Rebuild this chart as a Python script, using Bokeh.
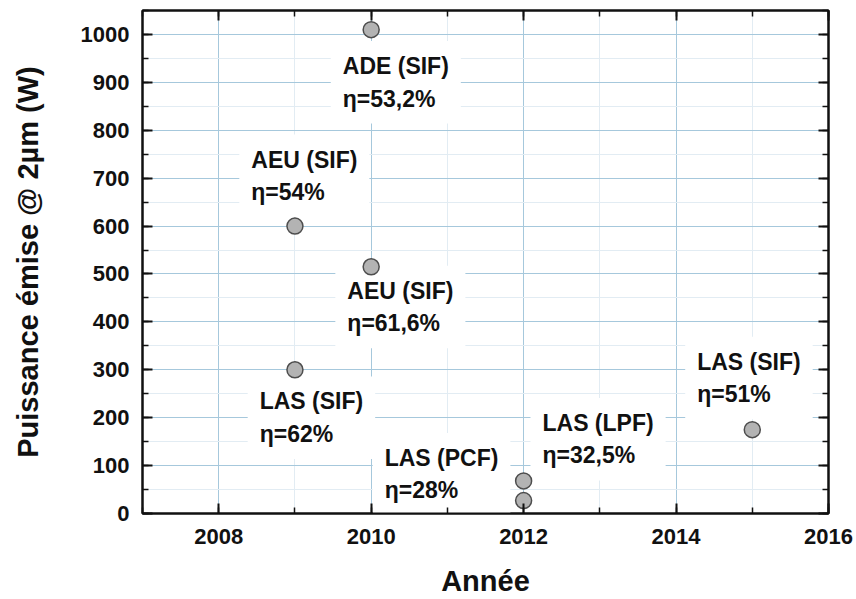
from bokeh.plotting import figure
from bokeh.models import (Range1d, LinearAxis, SingleIntervalTicker,
                          ColumnDataSource, CustomJSTickFormatter)
from bokeh.embed import file_html
from bokeh.resources import INLINE
from bokeh.core.properties import value

# Data
years = [2010, 2009, 2010, 2009, 2012, 2012, 2015]
power = [1010, 600, 515, 300, 68, 27, 175]
labels = ["ADE (SIF)\nη=53,2%", "AEU (SIF)\nη=54%", "AEU (SIF)\nη=61,6%",
          "LAS (SIF)\nη=62%", "LAS (PCF)\nη=28%", "LAS (LPF)\nη=32,5%",
          "LAS (SIF)\nη=51%"]
label_x = [2009.47, 2008.27, 2009.53, 2008.38, 2010.02, 2012.09, 2014.12]
label_y = [900, 705, 431, 200, 82, 155, 283]

FONT = "Liberation Sans"
INK = "#111111"

p = figure(width=856, height=599,
           x_range=Range1d(2007, 2016), y_range=Range1d(0, 1050),
           output_backend="svg", toolbar_location=None,
           min_border_left=142, min_border_right=28,
           min_border_top=10, min_border_bottom=82,
           x_axis_label="Année", y_axis_label="Puissance émise @ 2µm (W)")

bottom = p.below[0]
left = p.left[0]
bottom.ticker = SingleIntervalTicker(interval=2, num_minor_ticks=2)
left.ticker = SingleIntervalTicker(interval=100, num_minor_ticks=2)

blank = CustomJSTickFormatter(code="return ''")
top = LinearAxis(ticker=SingleIntervalTicker(interval=2, num_minor_ticks=2),
                 formatter=blank, major_label_standoff=0)
right = LinearAxis(ticker=SingleIntervalTicker(interval=100, num_minor_ticks=2),
                   formatter=blank, major_label_standoff=0)
p.add_layout(top, "above")
p.add_layout(right, "right")

for ax in (bottom, left, top, right):
    ax.axis_line_width = 2
    ax.axis_line_color = INK
    ax.major_tick_in = 10
    ax.major_tick_out = 0
    ax.minor_tick_in = 6
    ax.minor_tick_out = 0
    ax.major_tick_line_width = 2
    ax.major_tick_line_color = INK
    ax.minor_tick_line_width = 1.5
    ax.minor_tick_line_color = INK

for ax in (bottom, left):
    ax.major_label_text_font = FONT
    ax.major_label_text_font_style = "bold"
    ax.major_label_text_font_size = "22px"
    ax.major_label_text_color = INK
    ax.axis_label_text_font = FONT
    ax.axis_label_text_font_style = "bold"
    ax.axis_label_text_font_size = "29px"
    ax.axis_label_text_color = INK

left.major_label_standoff = 13
bottom.major_label_standoff = 15
left.axis_label_standoff = 34
bottom.axis_label_standoff = 18

p.xgrid.ticker = bottom.ticker
p.ygrid.ticker = left.ticker
p.xgrid.grid_line_color = "#a6c8dc"
p.ygrid.grid_line_color = "#a6c8dc"
p.xgrid.minor_grid_line_color = "#e2ecf3"
p.ygrid.minor_grid_line_color = "#e2ecf3"

p.outline_line_color = INK
p.outline_line_width = 2
p.background_fill_color = "white"

lsrc = ColumnDataSource(dict(x=label_x, y=label_y, t=labels))
p.text(x="x", y="y", text="t", source=lsrc,
       text_font=value(FONT), text_font_style="bold", text_font_size="23px",
       text_color=INK, text_align="left", text_baseline="middle",
       text_line_height=1.25, background_fill_color="white", padding=12)

p.scatter(years, power, size=16, fill_color="#b3b3b3",
          line_color="#4d4d4d", line_width=1.5)

open("out.html", "w").write(file_html(p, INLINE))
